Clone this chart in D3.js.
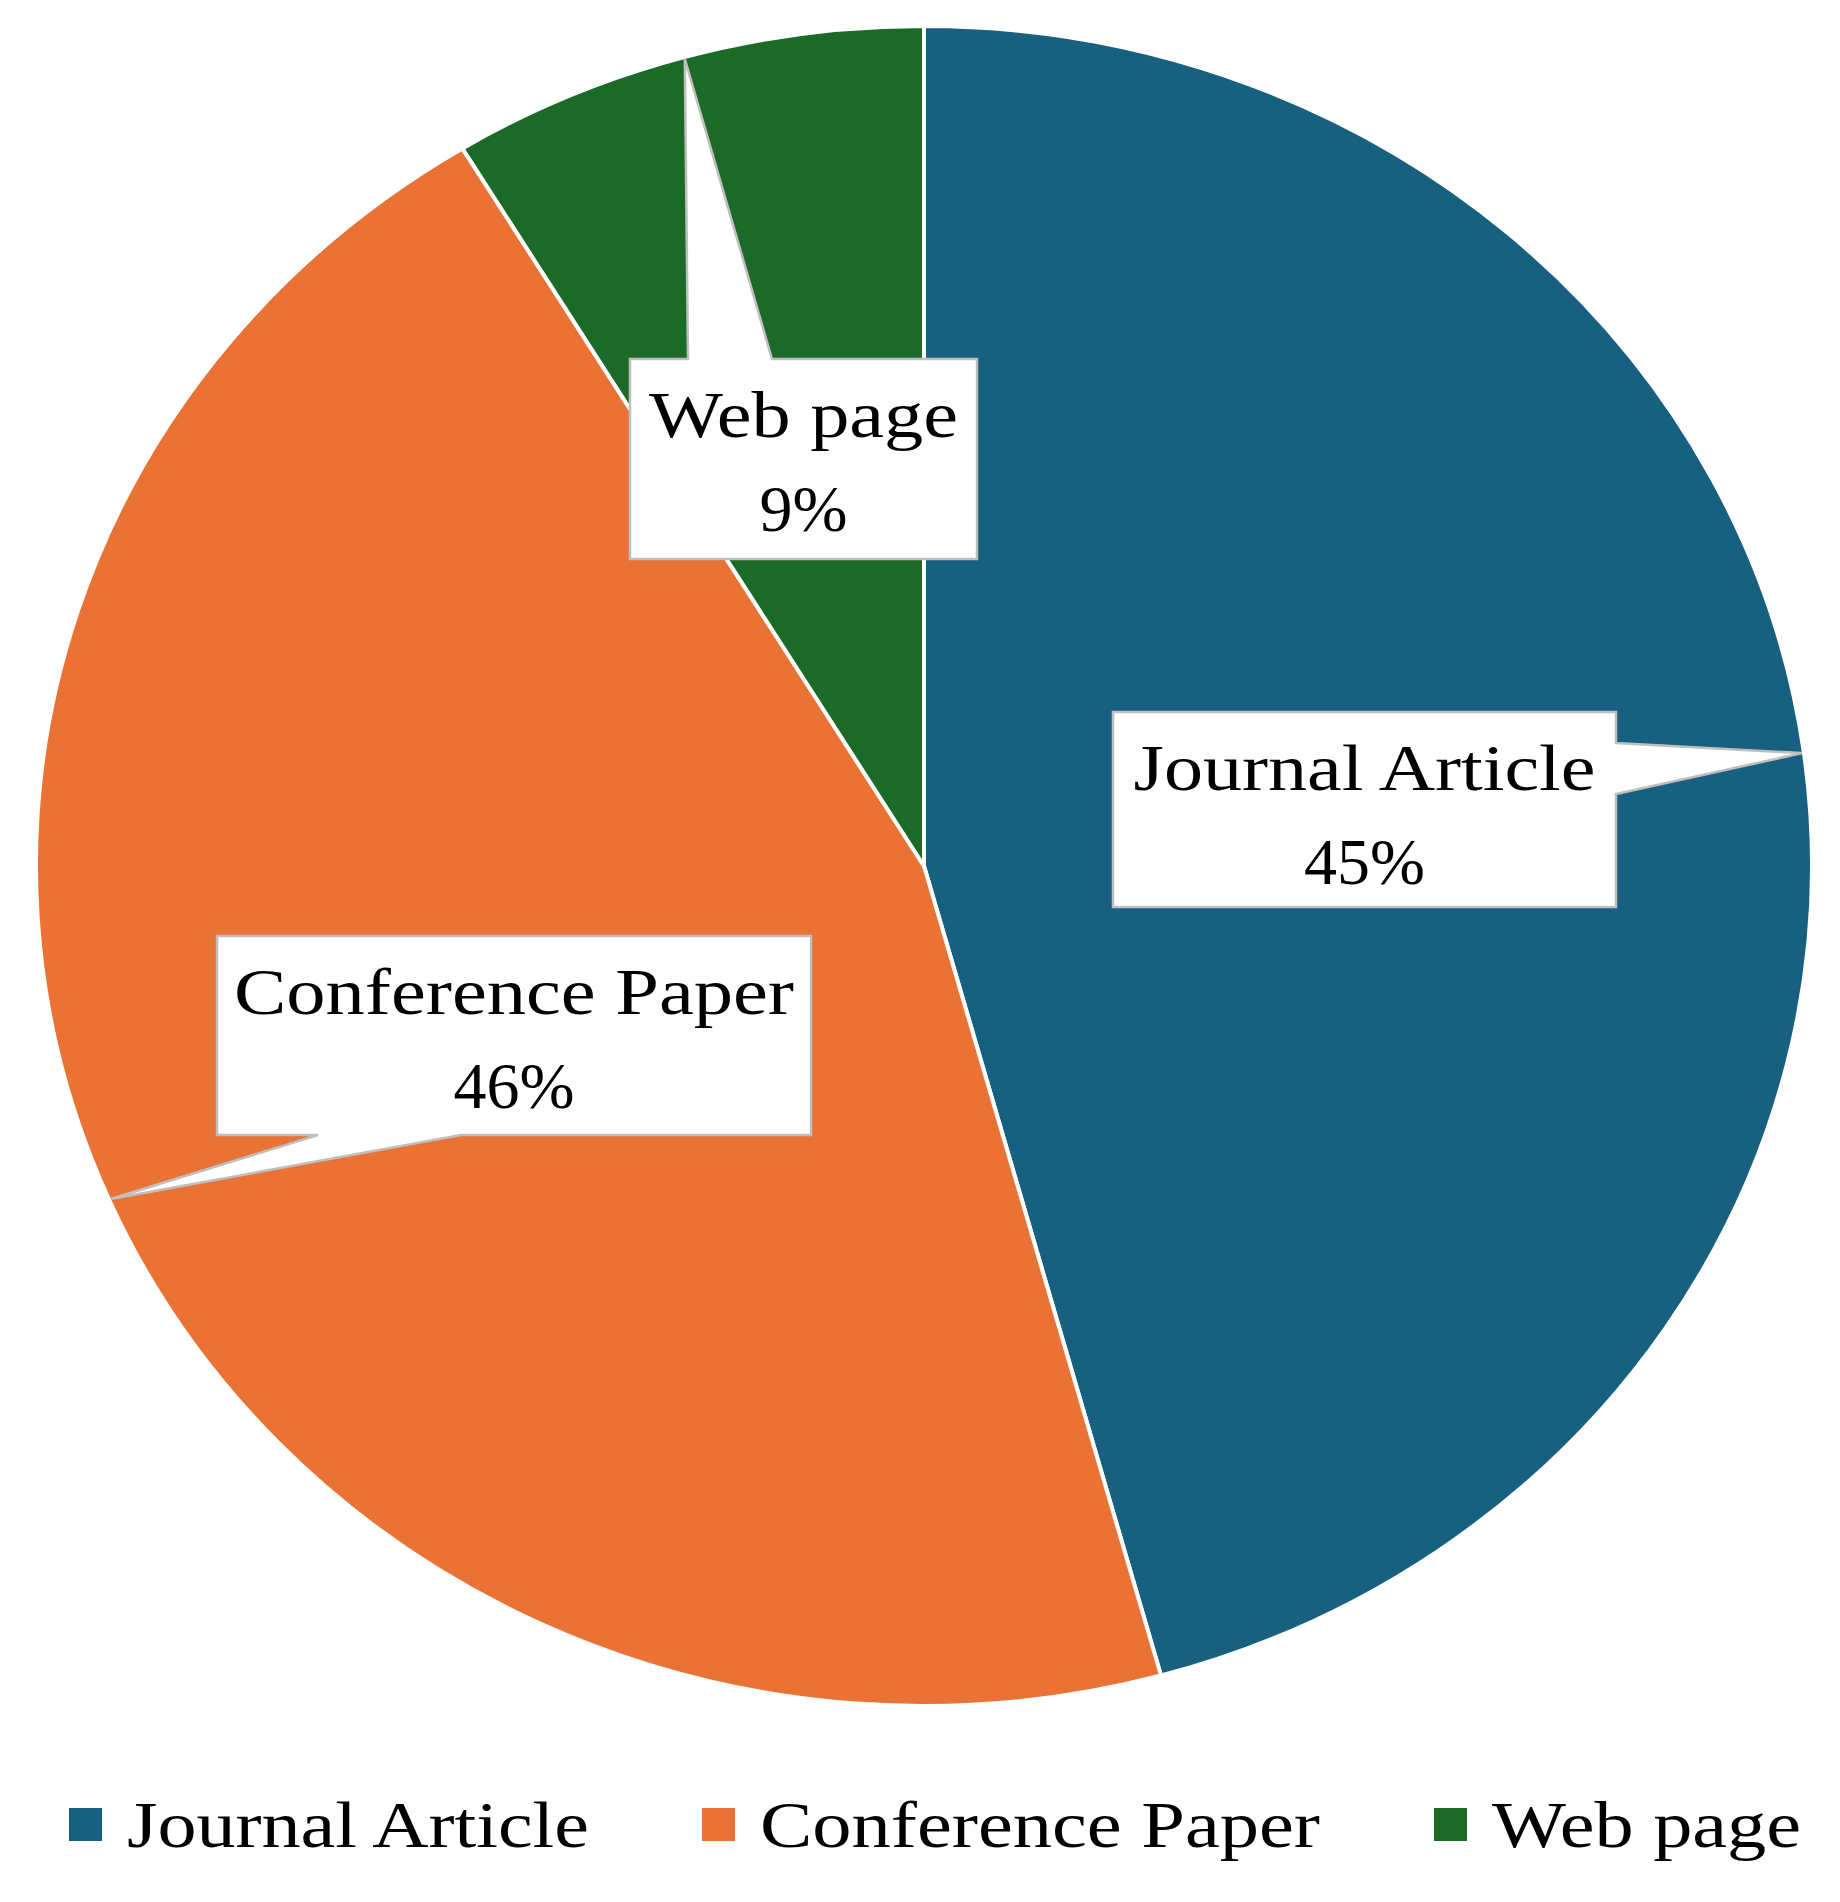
<!DOCTYPE html>
<html>
<head>
<meta charset="utf-8">
<script src="https://cdn.jsdelivr.net/npm/d3@7"></script>
<style>
  html, body { margin: 0; padding: 0; background: #fff; }
  svg { display: block; }
  text { font-family: "Liberation Serif", "Times New Roman", serif; fill: #000; }
</style>
</head>
<body>
<svg id="chart" width="1840" height="1902"></svg>
<script>
// ---- data ----
const categories = ["Journal Article", "Conference Paper", "Web page"];
const shares = [45.7, 45.6, 8.7];
const shareLabels = ["45%", "46%", "9%"];
const colors = ["#17607f", "#e97234", "#1c6a27"];

// ---- layout ----
const W = 1840, H = 1902;
const cx = 924, cy = 866, ry = 840, rx = 888;
const sx = rx / ry;
const fontSize = 66;
const nameWidths = [462, 560, 309];

const svg = d3.select("#chart");

const data = categories.map((c, i) => ({ name: c, value: shares[i], label: shareLabels[i], color: colors[i], idx: i }));
const pie = d3.pie().value(d => d.value).sort(null);
const arcs = pie(data);
const arc = d3.arc().innerRadius(0).outerRadius(ry);

const pieG = svg.append("g").attr("transform", `translate(${cx},${cy}) scale(${sx},1)`);
pieG.selectAll("path.slice").data(arcs).join("path")
  .attr("class", "slice")
  .attr("d", arc)
  .attr("fill", d => d.data.color)
  .attr("stroke", "#fff")
  .attr("stroke-width", 4)
  .attr("vector-effect", "non-scaling-stroke")
  .attr("stroke-linejoin", "round");

// ---- callouts ----
const callouts = [
  { box: [1113, 712, 1616, 907], side: "right", base: [743, 794] },
  { box: [217, 936, 811, 1135], side: "bottom", base: [318, 461] },
  { box: [630, 359, 977, 559], side: "top", base: [688, 772] }
];

function tipOf(a) {
  const m = (a.startAngle + a.endAngle) / 2;
  const k = 0.998;
  return [cx + rx * k * Math.sin(m), cy - ry * k * Math.cos(m)];
}

function calloutPath(c, tip) {
  const [x0, y0, x1, y1] = c.box;
  const [b0, b1] = c.base;
  const p = d3.path();
  p.moveTo(x0, y0);
  if (c.side === "top") { p.lineTo(b0, y0); p.lineTo(tip[0], tip[1]); p.lineTo(b1, y0); }
  p.lineTo(x1, y0);
  if (c.side === "right") { p.lineTo(x1, b0); p.lineTo(tip[0], tip[1]); p.lineTo(x1, b1); }
  p.lineTo(x1, y1);
  if (c.side === "bottom") { p.lineTo(b1, y1); p.lineTo(tip[0], tip[1]); p.lineTo(b0, y1); }
  p.lineTo(x0, y1);
  if (c.side === "left") { p.lineTo(x0, b1); p.lineTo(tip[0], tip[1]); p.lineTo(x0, b0); }
  p.closePath();
  return p.toString();
}

const labelG = svg.append("g");
arcs.forEach((a, i) => {
  const c = callouts[i];
  const tip = tipOf(a);
  labelG.append("path")
    .attr("d", calloutPath(c, tip))
    .attr("fill", "#fff")
    .attr("stroke", "#bfbfbf")
    .attr("stroke-width", 2.5)
    .attr("stroke-linejoin", "miter");
  const mx = (c.box[0] + c.box[2]) / 2;
  labelG.append("text")
    .attr("x", mx).attr("y", c.box[1] + 78)
    .attr("text-anchor", "middle")
    .attr("font-size", fontSize)
    .attr("textLength", nameWidths[i])
    .attr("lengthAdjust", "spacingAndGlyphs")
    .text(a.data.name);
  labelG.append("text")
    .attr("x", mx).attr("y", c.box[1] + 78 + 94)
    .attr("text-anchor", "middle")
    .attr("font-size", fontSize)
    .text(a.data.label);
});

// ---- legend ----
const legendX = [69, 702, 1434];
const legend = svg.append("g");
data.forEach((d, i) => {
  legend.append("rect")
    .attr("x", legendX[i]).attr("y", 1808)
    .attr("width", 33).attr("height", 33)
    .attr("fill", d.color);
  legend.append("text")
    .attr("x", legendX[i] + 58).attr("y", 1847)
    .attr("font-size", fontSize)
    .attr("textLength", nameWidths[i])
    .attr("lengthAdjust", "spacingAndGlyphs")
    .text(d.name);
});
</script>
</body>
</html>
